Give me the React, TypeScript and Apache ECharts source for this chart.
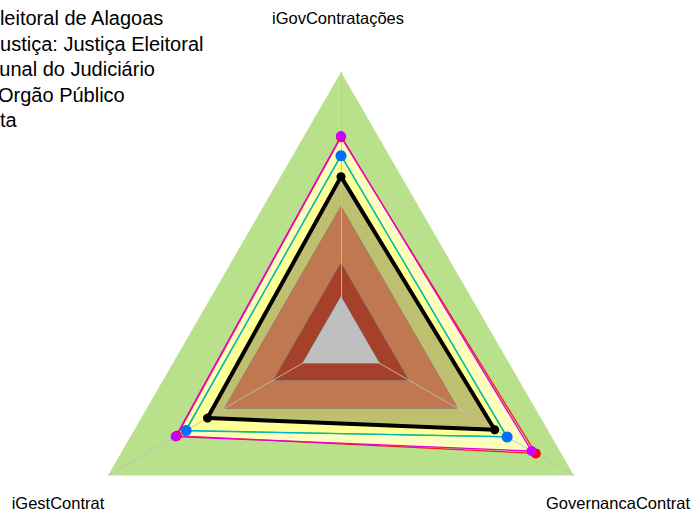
import React, { useEffect, useRef } from "react";
import * as echarts from "echarts";

// Indicators (ECharts places them counter-clockwise from the top)
const indicatorNames = ["iGovContratações", "iGestContrat", "GovernancaContrat"];
const indicatorMax = [1, 1, 1];

// Series values, in indicator order [top, bottom-left, bottom-right]
const seriesNames = [
  "Tribunal Regional Eleitoral de Alagoas",
  "Segmento de Justiça: Justiça Eleitoral",
  "Tribunal do Judiciário",
  "Orgão Público",
  "Meta",
];
const treAL = [0.611, 0.573, 0.66];
const justicaEleitoral = [0.689, 0.665, 0.713];
const tribunalJudiciario = [0.762, 0.71, 0.818];
const orgaoPublico = [0.758, 0.705, 0.836];
const meta = [0.69, 0.668, 0.711];

// Background reference bands (same level on every axis)
const bandLevels = [1, 0.5, 0.29, 0.165];

const FONT = "'Liberation Sans', Arial, sans-serif";

// legend text offsets (text is cut at the left edge of the picture)
const legendOffsets = [175, 134.5, 34.4, 2, 27.8];
const legendCenters = [18, 43.5, 69, 94.5, 120];

export default function App() {
  const ref = useRef<HTMLDivElement>(null);

  useEffect(() => {
    if (!ref.current) return;
    const chart = echarts.init(ref.current, null, { renderer: "svg" });

    const fill = (name: string, value: number[], color: string, line?: string) => ({
      type: "radar",
      z: 1,
      silent: true,
      symbol: "none",
      lineStyle: line ? { color: line, width: 1 } : { width: 0, opacity: 0 },
      areaStyle: { color, opacity: 1 },
      data: [{ name, value }],
    });

    const dataSeries = (
      name: string,
      value: number[],
      dot: string,
      line: string,
      width: number,
      size: number,
      showSymbol = true
    ) => ({
      type: "radar",
      z: 3,
      symbol: showSymbol ? "circle" : "none",
      symbolSize: size,
      itemStyle: { color: dot },
      lineStyle: { color: line, width },
      data: [{ name, value }],
    });

    const option: any = {
      animation: false,
      backgroundColor: "#ffffff",
      radar: {
        center: [341, 341],
        radius: 269,
        startAngle: 90,
        shape: "polygon",
        splitNumber: 1,
        z: 2,
        indicator: indicatorNames.map((n, i) => ({ name: n, min: 0, max: indicatorMax[i] })),
        axisName: { show: false },
        splitLine: { show: false },
        splitArea: { show: false },
        axisTick: { show: false },
        axisLabel: { show: false },
        axisLine: { lineStyle: { color: "rgba(190,190,190,0.85)", width: 1 } },
      },
      legend: seriesNames.map((n, i) => ({
        data: [n],
        orient: "vertical",
        left: -(legendOffsets[i] + 35),
        top: legendCenters[i] - 15,
        itemWidth: 25,
        itemHeight: 14,
        itemGap: 0,
        selectedMode: false,
        textStyle: { fontSize: 20, fontFamily: FONT, color: "#000", lineHeight: 20 },
      })),
      series: [
        fill("band-1", bandLevels.map(() => bandLevels[0]), "#b9e08b"),
        fill("fill-outer", tribunalJudiciario, "#fdfdbd"),
        fill("fill-inner", justicaEleitoral, "#ffff96"),
        fill("band-2", bandLevels.map(() => bandLevels[1]), "#ffa06a", "#a0a0a0"),
        fill("band-3", bandLevels.map(() => bandLevels[2]), "#dc573a", "#a0a0a0"),
        fill("band-4", bandLevels.map(() => bandLevels[3]), "#ffffff", "#a0a0a0"),
        fill("shade", treAL, "rgba(0,0,0,0.25)"),
        dataSeries(seriesNames[3], orgaoPublico, "#ff0000", "#ff1a1a", 1.3, 10),
        dataSeries(seriesNames[2], tribunalJudiciario, "#cc00ff", "#e000e0", 1.3, 10),
        dataSeries(seriesNames[4], meta, "#00d000", "#22cc22", 1.2, 8, false),
        dataSeries(seriesNames[1], justicaEleitoral, "#0070ff", "#00b8c8", 1.3, 11),
        dataSeries(seriesNames[0], treAL, "#000000", "#000000", 4, 9),
      ],
      graphic: [
        {
          type: "text",
          x: 338,
          y: 18,
          style: { text: indicatorNames[0], font: `16.5px ${FONT}`, fill: "#000", textAlign: "center", textVerticalAlign: "middle" },
        },
        {
          type: "text",
          x: 58,
          y: 503,
          style: { text: indicatorNames[1], font: `16.5px ${FONT}`, fill: "#000", textAlign: "center", textVerticalAlign: "middle" },
        },
        {
          type: "text",
          x: 546,
          y: 503,
          style: { text: indicatorNames[2], font: `16.5px ${FONT}`, fill: "#000", textAlign: "left", textVerticalAlign: "middle" },
        },
      ],
    };

    chart.setOption(option);
    return () => chart.dispose();
  }, []);

  return (
    <div
      ref={ref}
      style={{ position: "fixed", left: 0, top: 0, width: 691, height: 513 }}
    />
  );
}
